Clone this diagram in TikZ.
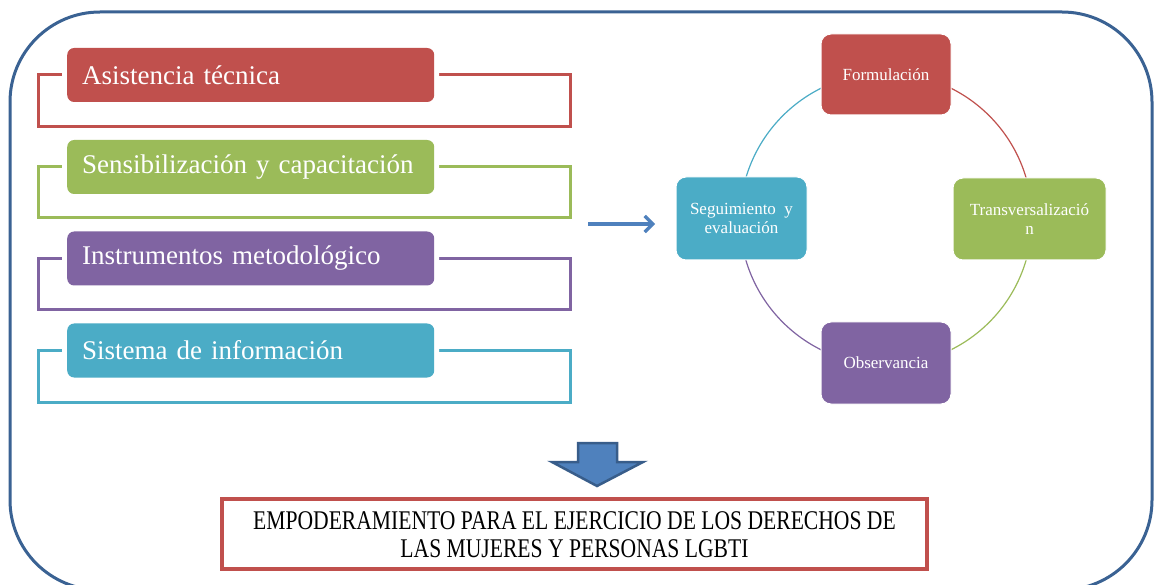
\documentclass[tikz,border=0pt]{standalone}
\usepackage{fontspec}
\setmainfont{Liberation Serif}
\usetikzlibrary{arrows.meta,calc}
\definecolor{cred}{HTML}{C0504D}
\definecolor{cgreen}{HTML}{9BBB59}
\definecolor{cpurple}{HTML}{8064A2}
\definecolor{cteal}{HTML}{4BACC6}
\definecolor{cblue}{HTML}{4F81BD}
\definecolor{cdblue}{HTML}{385D8A}
\definecolor{cframe}{HTML}{3A6293}
\tikzset{
  listbox/.style={fill=#1, rounded corners=7pt, anchor=west, minimum width=367pt,
    minimum height=54pt, text width=337pt, inner xsep=15pt, align=left, text=white,
    font=\fontsize{27}{30}\selectfont,
    preaction={draw=white, line width=10pt, rounded corners=7pt}},
  bracket/.style={draw=#1, line width=3pt},
  cyclebox/.style={fill=#1, draw=white, line width=1pt, rounded corners=10pt,
    text=white, align=center, font=\fontsize{17}{18.5}\selectfont, inner sep=2pt},
  cyclearc/.style={draw=#1, line width=1.2pt},
}
\begin{document}
\begin{tikzpicture}[x=1pt,y=1pt]
\useasboundingbox (0,0) rectangle (1154,-585);
\clip (0,0) rectangle (1154,-585);
\fill[white] (0,0) rectangle (1154,-585);
% outer frame
\draw[cframe, line width=3pt, rounded corners=90pt] (10,-12) rectangle (1152,-590);

% left list brackets
\draw[bracket=cred]    (38,-75)    rectangle (570,-127);
\draw[bracket=cgreen]  (38,-167)   rectangle (570,-218);
\draw[bracket=cpurple] (38,-258.5) rectangle (570,-310);
\draw[bracket=cteal]   (38,-350.5) rectangle (570,-402);

% left list boxes
\node[listbox=cred]    (l1) at (67,-75)    {Asistencia técnica};
\node[listbox=cgreen]  (l2) at (67,-167)   {Sensibilización y capacitación};
\node[listbox=cpurple] (l3) at (67,-258.5) {Instrumentos metodológico};
\node[listbox=cteal]   (l4) at (67,-350.5) {Sistema de información};

% connecting arrow
\coordinate (as) at (588,-224);
\coordinate (ae) at (655,-224);
\draw[cblue, line width=3.2pt, -{Straight Barb[length=8pt,width=16pt,line width=3.2pt]}] (as) -- (ae);

% cycle
\coordinate (cc) at (886,-219);
\draw[cyclearc=cred]    (cc) ++(90:146)  arc[start angle=90,  end angle=0,    radius=146pt];
\draw[cyclearc=cgreen]  (cc) ++(0:146)   arc[start angle=0,   end angle=-90,  radius=146pt];
\draw[cyclearc=cpurple] (cc) ++(-90:146) arc[start angle=-90, end angle=-180, radius=146pt];
\draw[cyclearc=cteal]   (cc) ++(180:146) arc[start angle=180, end angle=90,   radius=146pt];

\node[cyclebox=cred, minimum width=130pt, minimum height=81pt] (c1) at (886,-74.5) {Formulación};
\node[cyclebox=cgreen, minimum width=153pt, minimum height=82pt] (c2) at (1029.5,-219) {Transversalizació\\n};
\node[cyclebox=cpurple, minimum width=130pt, minimum height=82pt] (c3) at (886,-363) {Observancia};
\node[cyclebox=cteal, minimum width=131pt, minimum height=83pt] (c4) at (741.5,-218.5) {Seguimiento\ \ y\\evaluación};

% block arrow down
\draw[fill=cblue, draw=cdblue, line width=2.5pt, line join=miter]
  (578,-443) -- (617,-443) -- (617,-462) -- (643,-462) -- (597,-486) -- (552,-462) -- (578,-462) -- cycle;

% bottom result box
\node[draw=cred, line width=3.5pt, minimum width=705pt, minimum height=70pt, inner sep=0pt]
  (res) at (574.5,-534) {};
\node[inner sep=0pt] (restext) at (574.5,-538) {\scalebox{0.8}[1]{\fontsize{27}{28}\selectfont
  \begin{tabular}{@{}c@{}}EMPODERAMIENTO PARA EL EJERCICIO DE LOS DERECHOS DE\\LAS MUJERES Y PERSONAS LGBTI\end{tabular}}};
\end{tikzpicture}
\end{document}
